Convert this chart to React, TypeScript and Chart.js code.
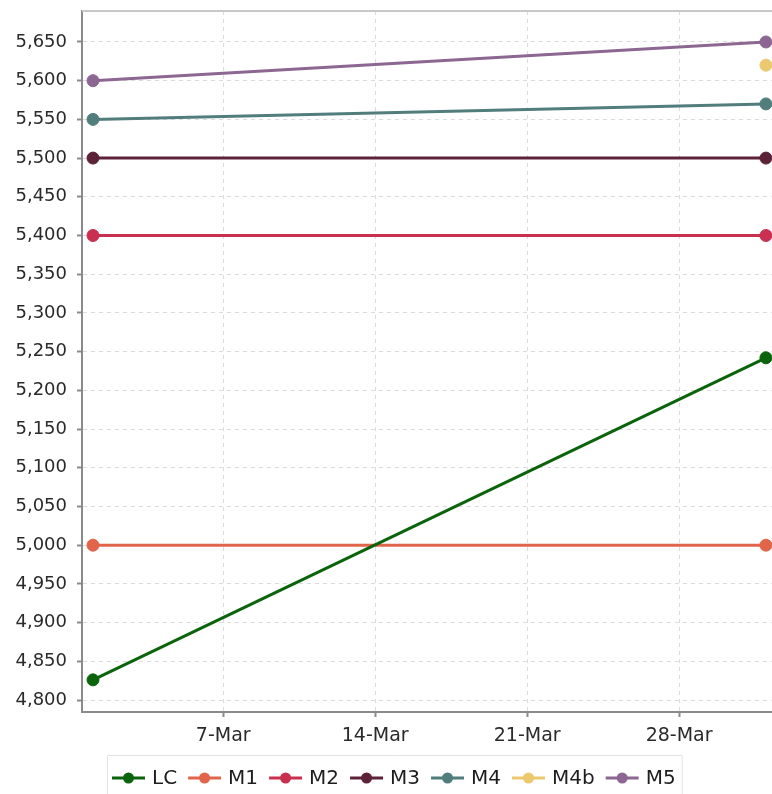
import React, { useEffect, useRef } from "react";
import { Chart, registerables } from "chart.js";

Chart.register(...registerables);

// ---- data ----
const dates = ["2024-03-01", "2024-04-01"];
const seriesNames = ["LC", "M1", "M2", "M3", "M4", "M4b", "M5"];
const lcValues = [4826, 5242];
const m1Values = [5000, 5000];
const m2Values = [5400, 5400];
const m3Values = [5500, 5500];
const m4Values = [5550, 5570];
const m4bValues: (number | null)[] = [null, 5620];
const m5Values = [5600, 5650];
const xTickDates = ["2024-03-07", "2024-03-14", "2024-03-21", "2024-03-28"];
const xTickLabels = ["7-Mar", "14-Mar", "21-Mar", "28-Mar"];
const seriesColors = ["#0b640b", "#e0654a", "#c9304f", "#5c2338", "#517d7d", "#ecc96e", "#8c6791"];

const DAY = 86400000;
const BASE = Date.UTC(2024, 1, 29); // day 1 = 1-Mar
const toDay = (s: string) => (Date.parse(s + "T00:00:00Z") - BASE) / DAY;

const FONT = "'DejaVu Sans', Verdana, sans-serif";

const legendPlugin = {
  id: "customLegend",
  afterDraw(chart: any) {
    const ctx = chart.ctx as CanvasRenderingContext2D;
    const area = chart.chartArea;
    // top border of plot
    ctx.save();
    ctx.strokeStyle = "#c8c8c8";
    ctx.lineWidth = 2;
    ctx.beginPath();
    ctx.moveTo(area.left, area.top);
    ctx.lineTo(area.right, area.top);
    ctx.stroke();
    ctx.restore();

    ctx.save();
    ctx.font = `20px ${FONT}`;
    ctx.textBaseline = "middle";
    const cy = 778;
    let x = 112;
    const startX = 107;
    chart.data.datasets.forEach((ds: any) => {
      const c = ds.borderColor;
      ctx.strokeStyle = c;
      ctx.lineWidth = 3;
      ctx.beginPath();
      ctx.moveTo(x, cy);
      ctx.lineTo(x + 33, cy);
      ctx.stroke();
      ctx.fillStyle = c;
      ctx.beginPath();
      ctx.arc(x + 16.5, cy, 5.5, 0, Math.PI * 2);
      ctx.fill();
      ctx.fillStyle = "#1e1e1e";
      ctx.fillText(ds.label, x + 40, cy + 1);
      x += 40 + ctx.measureText(ds.label).width + 11;
    });
    const endX = x - 11 + 6;
    ctx.strokeStyle = "#e2e2e2";
    ctx.lineWidth = 1;
    ctx.beginPath();
    ctx.moveTo(startX + 0.5, 800);
    ctx.lineTo(startX + 0.5, 755.5);
    ctx.lineTo(endX + 0.5, 755.5);
    ctx.lineTo(endX + 0.5, 800);
    ctx.stroke();
    ctx.restore();
  },
};

export default function App() {
  const ref = useRef<HTMLCanvasElement>(null);

  useEffect(() => {
    document.body.style.margin = "0";
    const xs = dates.map(toDay);
    const all = [lcValues, m1Values, m2Values, m3Values, m4Values, m4bValues, m5Values];
    const datasets = all.map((vals, i) => ({
      label: seriesNames[i],
      data: vals.map((v, j) => ({ x: xs[j], y: v })),
      borderColor: seriesColors[i],
      backgroundColor: seriesColors[i],
      borderWidth: 3,
      pointRadius: 6,
      pointBorderWidth: 1,
      pointBorderColor: seriesColors[i],
      pointBackgroundColor: seriesColors[i],
      spanGaps: false,
      fill: false,
      tension: 0,
    }));
    const tickDays = xTickDates.map(toDay);

    const chart = new Chart(ref.current!, {
      type: "line",
      data: { datasets },
      plugins: [legendPlugin],
      options: {
        animation: false,
        responsive: false,
        layout: { autoPadding: false, padding: { top: 11, right: 0, left: 0, bottom: 0 } },
        plugins: { legend: { display: false }, tooltip: { enabled: false } },
        scales: {
          x: {
            type: "linear",
            min: 0.493,
            max: 32.28,
            afterBuildTicks: (scale: any) => {
              scale.ticks = tickDays.map((v) => ({ value: v }));
            },
            afterFit: (scale: any) => {
              scale.height = 82;
              scale.paddingLeft = 0;
              scale.paddingRight = 0;
            },
            ticks: {
              autoSkip: false,
              maxRotation: 0,
              padding: 8,
              color: "#2a2a2a",
              font: { family: FONT, size: 19 },
              callback: (v: any) => {
                const i = tickDays.indexOf(Number(v));
                return i >= 0 ? xTickLabels[i] : "";
              },
            },
            grid: {
              color: "#dcdcdc",
              lineWidth: 1,
              tickColor: "#8a8a8a",
              tickLength: 5,
              tickWidth: 2,
              tickBorderDash: [],
            },
            border: { color: "#8a8a8a", width: 2, dash: [4, 4] },
          },
          y: {
            type: "linear",
            min: 4784.5,
            max: 5690,
            afterFit: (scale: any) => {
              scale.width = 82;
              scale.paddingTop = 0;
              scale.paddingBottom = 0;
            },
            ticks: {
              stepSize: 50,
              includeBounds: false,
              padding: 10,
              color: "#2a2a2a",
              font: { family: FONT, size: 18 },
              callback: (v: any) => Number(v).toLocaleString("en-US"),
            },
            grid: {
              color: "#dcdcdc",
              lineWidth: 1,
              tickColor: "#8a8a8a",
              tickLength: 5,
              tickWidth: 2,
              tickBorderDash: [],
            },
            border: { color: "#8a8a8a", width: 2, dash: [4, 4] },
          },
        },
      },
    });
    return () => chart.destroy();
  }, []);

  return (
    <div style={{ position: "absolute", left: 0, top: 0, width: 772, height: 794 }}>
      <canvas ref={ref} width={772} height={794} style={{ display: "block" }} />
    </div>
  );
}
